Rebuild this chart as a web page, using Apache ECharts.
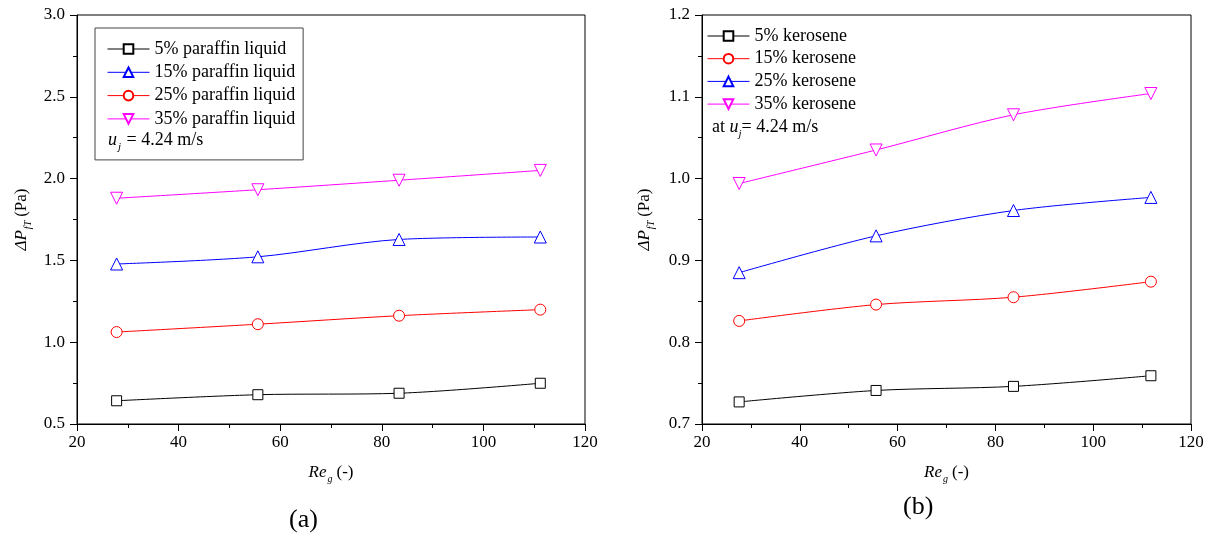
<!DOCTYPE html>
<html lang="en">
<head>
    <meta charset="UTF-8">
    <title>Pressure drop vs Re_g</title>
    <script src="https://cdn.jsdelivr.net/npm/echarts@6/dist/echarts.min.js"></script>
</head>
<body style="margin:0;background:#fff;">
<div id="main" style="width:1221px;height:547px;"></div>
<script type="text/javascript">
    // Re_g values
    var reA = [27.8, 55.6, 83.4, 111.2];
    var reB = [27.6, 55.6, 83.7, 111.8];

    // panel (a): paraffin liquid
    var namesA = ['5% paraffin liquid', '15% paraffin liquid', '25% paraffin liquid', '35% paraffin liquid'];
    var para5 = [0.642, 0.679, 0.688, 0.749];
    var para15 = [1.478, 1.522, 1.628, 1.643];
    var para25 = [1.062, 1.110, 1.162, 1.199];
    var para35 = [1.880, 1.932, 1.990, 2.050];

    // panel (b): kerosene
    var namesB = ['5% kerosene', '15% kerosene', '25% kerosene', '35% kerosene'];
    var kero5 = [0.727, 0.741, 0.746, 0.759];
    var kero15 = [0.826, 0.846, 0.855, 0.874];
    var kero25 = [0.885, 0.930, 0.961, 0.977];
    var kero35 = [0.994, 1.035, 1.078, 1.104];

    var font = 'Liberation Serif';
    var downTri = 'path://M0,0L10,0L5,9Z';

    function pairs(xs, ys) {
        return xs.map(function (x, i) { return [x, ys[i]]; });
    }

    function mkSeries(name, color, symbol, size, xs, ys, idx) {
        return {
            name: name,
            type: 'line',
            xAxisIndex: idx,
            yAxisIndex: idx,
            data: pairs(xs, ys),
            smooth: 0.3,
            symbol: symbol,
            symbolSize: size,
            showAllSymbol: true,
            lineStyle: {color: color, width: 1},
            itemStyle: {color: '#fff', borderColor: color, borderWidth: 1},
            emphasis: {disabled: true},
            z: 3
        };
    }

    function nameRich() {
        return {
            i: {fontFamily: font, fontSize: 17, fontStyle: 'italic', color: '#000'},
            s: {fontFamily: font, fontSize: 10, fontStyle: 'italic', color: '#000', padding: [12, 4, 0, 1]}
        };
    }

    function xAx(idx) {
        return {
            gridIndex: idx,
            type: 'value',
            min: 20, max: 120, interval: 20,
            name: '{i|Re}{s|g}(-)',
            nameLocation: 'middle',
            nameGap: 38,
            nameTextStyle: {fontFamily: font, fontSize: 17, color: '#000', rich: nameRich()},
            axisLine: {lineStyle: {color: '#000', width: 1}},
            axisTick: {inside: false, length: 7, lineStyle: {color: '#000'}},
            minorTick: {show: true, splitNumber: 2, length: 4, lineStyle: {color: '#000'}},
            axisLabel: {fontFamily: font, fontSize: 17, color: '#000', margin: 10},
            splitLine: {show: false}
        };
    }

    function yAx(idx, min, max, interval, gap) {
        return {
            gridIndex: idx,
            type: 'value',
            min: min, max: max, interval: interval,
            name: '{i|ΔP}{s|fT}(Pa)',
            nameLocation: 'middle',
            nameGap: gap,
            nameRotate: 90,
            nameTextStyle: {fontFamily: font, fontSize: 17, color: '#000', rich: nameRich()},
            axisLine: {show: true, lineStyle: {color: '#000', width: 1}},
            axisTick: {show: true, inside: false, length: 7, lineStyle: {color: '#000'}},
            minorTick: {show: true, splitNumber: 2, length: 4, lineStyle: {color: '#000'}},
            axisLabel: {
                fontFamily: font, fontSize: 17, color: '#000', margin: 12,
                formatter: function (v) { return v.toFixed(1); }
            },
            splitLine: {show: false}
        };
    }

    var myChart = echarts.init(document.getElementById('main'));

    var option = {
        backgroundColor: '#fff',
        animation: false,
        textStyle: {fontFamily: font, color: '#000'},
        grid: [
            {left: 77, right: 636, top: 15, bottom: 123, show: true, borderColor: '#000', borderWidth: 1},
            {left: 702, right: 30, top: 15, bottom: 123, show: true, borderColor: '#000', borderWidth: 1}
        ],
        xAxis: [xAx(0), xAx(1)],
        yAxis: [yAx(0, 0.5, 3.0, 0.5, 44), yAx(1, 0.7, 1.2, 0.1, 46)],
        legend: [
            {
                data: namesA,
                orient: 'vertical',
                left: 95, top: 28,
                padding: [12, 8, 32, 12],
                itemWidth: 42, itemHeight: 12, itemGap: 5.3,
                lineStyle: {width: 1},
                borderColor: '#444', borderWidth: 1,
                backgroundColor: '#fff',
                textStyle: {fontFamily: font, fontSize: 18, color: '#000'}
            },
            {
                data: namesB,
                orient: 'vertical',
                left: 705, top: 25,
                padding: [2, 4, 4, 2],
                itemWidth: 42, itemHeight: 12, itemGap: 4.7,
                lineStyle: {width: 1},
                textStyle: {fontFamily: font, fontSize: 18, color: '#000'}
            }
        ],
        series: [
            mkSeries(namesA[0], '#000', 'rect', 10, reA, para5, 0),
            mkSeries(namesA[1], '#0000ff', 'triangle', 12, reA, para15, 0),
            mkSeries(namesA[2], '#ff0000', 'circle', 11, reA, para25, 0),
            mkSeries(namesA[3], '#ff00ff', downTri, 12, reA, para35, 0),
            mkSeries(namesB[0], '#000', 'rect', 10, reB, kero5, 1),
            mkSeries(namesB[1], '#ff0000', 'circle', 11, reB, kero15, 1),
            mkSeries(namesB[2], '#0000ff', 'triangle', 12, reB, kero25, 1),
            mkSeries(namesB[3], '#ff00ff', downTri, 12, reB, kero35, 1)
        ],
        graphic: [
            {
                type: 'text', left: 108, top: 131, z: 100,
                style: {
                    text: '{i|u}{s|j} = 4.24 m/s',
                    fontFamily: font, fontSize: 18, fill: '#000',
                    rich: {
                        i: {fontFamily: font, fontSize: 18, fontStyle: 'italic'},
                        s: {fontFamily: font, fontSize: 11, fontStyle: 'italic', padding: [14, 1, 0, 1]}
                    }
                }
            },
            {
                type: 'text', left: 712, top: 118, z: 100,
                style: {
                    text: 'at {i|u}{s|j}= 4.24 m/s',
                    fontFamily: font, fontSize: 18, fill: '#000',
                    rich: {
                        i: {fontFamily: font, fontSize: 18, fontStyle: 'italic'},
                        s: {fontFamily: font, fontSize: 11, fontStyle: 'italic', padding: [14, 0, 0, 0]}
                    }
                }
            },
            {
                type: 'text', left: 289, top: 507,
                style: {text: '(a)', fontFamily: font, fontSize: 26, fill: '#000'}
            },
            {
                type: 'text', left: 903, top: 494,
                style: {text: '(b)', fontFamily: font, fontSize: 26, fill: '#000'}
            }
        ]
    };

    myChart.setOption(option);
</script>
</body>
</html>
